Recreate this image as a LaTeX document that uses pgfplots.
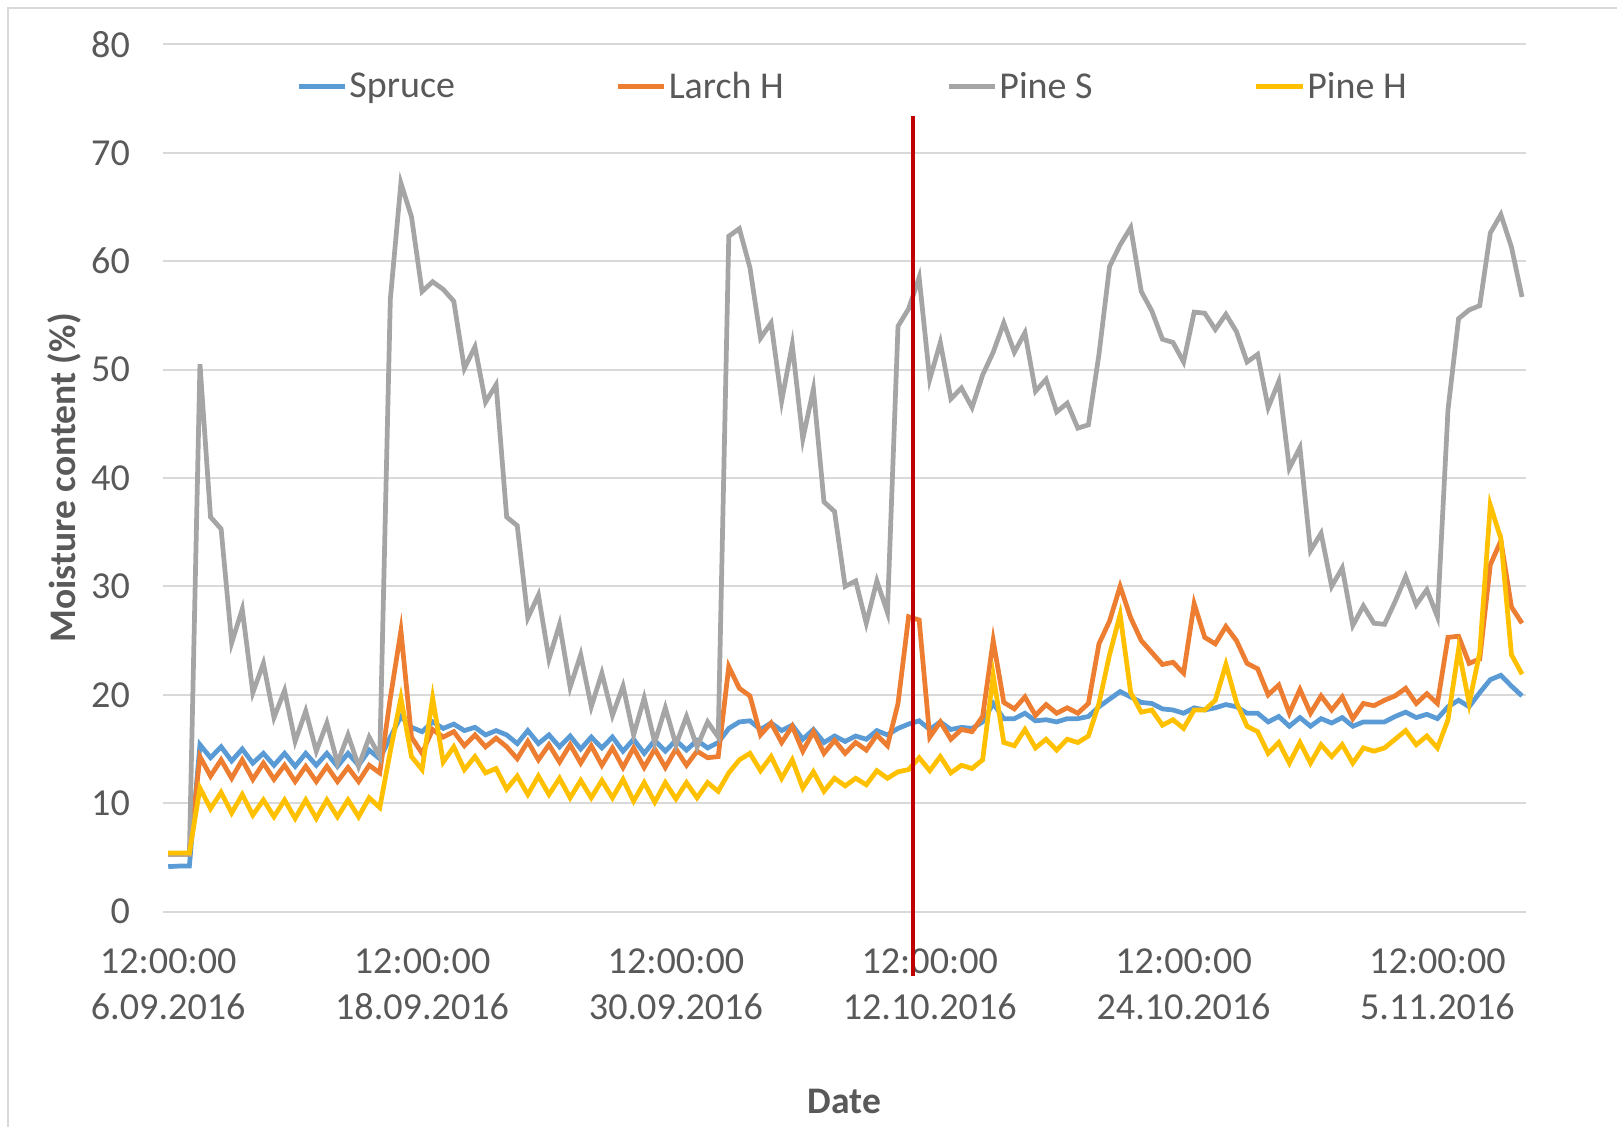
\documentclass[border=0pt]{standalone}
\usepackage{pgfplots}
\pgfplotsset{compat=1.18}
\usepackage{pgfplotstable}
\usepackage{fontspec}
\setmainfont{Carlito}
\definecolor{cS}{HTML}{5B9BD5}
\definecolor{cL}{HTML}{ED7D31}
\definecolor{cP}{HTML}{A5A5A5}
\definecolor{cH}{HTML}{FFC000}
\definecolor{txt}{HTML}{595959}
\definecolor{gridc}{HTML}{D9D9D9}
\definecolor{redline}{HTML}{C00000}

\pgfplotstableread{
x s l p h
0 4.15 5.3 5.3 5.4
0.5 4.2 5.3 5.3 5.4
1 4.2 5.3 5.3 5.4
1.5 15.4 14.3 50.5 11.4
2 14.2 12.5 36.4 9.5
2.5 15.2 14.0 35.3 11.0
3 13.9 12.3 24.8 9.1
3.5 15.0 14.0 27.9 10.8
4 13.7 12.2 20.2 8.9
4.5 14.6 13.7 22.9 10.3
5 13.5 12.2 17.9 8.75
5.5 14.6 13.5 20.4 10.3
6 13.4 12.0 15.7 8.6
6.5 14.6 13.4 18.5 10.3
7 13.5 12.0 14.8 8.6
7.5 14.6 13.4 17.4 10.3
8 13.4 12.0 13.7 8.75
8.5 14.6 13.3 16.3 10.3
9 13.5 12.0 13.4 8.75
9.5 14.9 13.5 16.1 10.5
10 14.1 12.8 14.3 9.6
10.5 16.1 19.7 56.5 14.8
11 18.0 25.9 67.2 19.7
11.5 17.0 16.1 64.1 14.3
12 16.6 14.6 57.2 13.1
12.5 17.5 16.8 58.1 19.7
13 16.9 16.1 57.4 13.8
13.5 17.3 16.6 56.3 15.2
14 16.7 15.3 50.1 13.1
14.5 17.0 16.3 52.1 14.3
15 16.3 15.2 47.0 12.8
15.5 16.7 16.0 48.6 13.2
16 16.3 15.2 36.4 11.3
16.5 15.5 14.1 35.6 12.5
17 16.7 15.7 27.1 10.8
17.5 15.5 14.0 29.2 12.5
18 16.3 15.4 23.3 10.8
18.5 15.2 13.8 26.5 12.3
19 16.2 15.4 20.7 10.5
19.5 15.0 13.7 23.7 12.1
20 16.1 15.3 18.9 10.5
20.5 15.1 13.5 22.0 12.1
21 16.1 15.1 18.1 10.5
21.5 14.8 13.3 20.8 12.2
22 15.9 15.1 16.3 10.2
22.5 14.6 13.3 19.7 11.9
23 15.8 15.0 15.6 10.1
23.5 14.8 13.3 18.8 11.9
24 15.8 15.0 15.4 10.4
24.5 14.9 13.5 18.0 11.9
25 15.8 14.8 15.2 10.5
25.5 15.1 14.2 17.5 11.9
26 15.6 14.3 16.1 11.1
26.5 16.9 22.6 62.3 12.8
27 17.5 20.6 63.0 14.0
27.5 17.6 19.9 59.4 14.6
28 16.8 16.3 52.9 13.0
28.5 17.4 17.4 54.3 14.3
29 16.7 15.6 47.1 12.3
29.5 17.2 17.1 52.3 14.0
30 15.9 14.8 43.6 11.4
30.5 16.8 16.6 48.2 12.9
31 15.6 14.6 37.8 11.1
31.5 16.2 15.8 36.9 12.3
32 15.7 14.6 30.0 11.6
32.5 16.2 15.6 30.5 12.3
33 15.9 14.9 26.6 11.7
33.5 16.7 16.3 30.5 13.0
34 16.3 15.3 27.6 12.3
34.5 16.9 19.2 54.0 12.9
35 17.3 27.2 55.6 13.1
35.5 17.6 26.9 58.5 14.2
36 16.8 16.1 49.1 13.0
36.5 17.5 17.5 52.5 14.3
37 16.8 15.9 47.3 12.8
37.5 17.0 16.8 48.3 13.5
38 16.9 16.6 46.5 13.2
38.5 17.5 18.0 49.5 14.0
39 19.2 25.0 51.6 21.8
39.5 17.8 19.3 54.3 15.6
40 17.8 18.7 51.6 15.3
40.5 18.3 19.8 53.4 16.8
41 17.6 18.1 48.0 15.1
41.5 17.7 19.1 49.1 15.9
42 17.5 18.3 46.1 14.9
42.5 17.8 18.8 46.9 15.9
43 17.8 18.3 44.6 15.6
43.5 18.0 19.2 44.9 16.2
44 18.9 24.7 51.4 19.2
44.5 19.6 26.8 59.5 23.7
45 20.3 30.0 61.5 27.4
45.5 19.8 27.1 63.1 20.2
46 19.3 25.0 57.2 18.4
46.5 19.2 23.9 55.4 18.6
47 18.7 22.8 52.8 17.2
47.5 18.6 23.0 52.5 17.7
48 18.3 22.0 50.7 16.9
48.5 18.8 28.4 55.3 18.6
49 18.6 25.3 55.2 18.6
49.5 18.8 24.7 53.7 19.5
50 19.1 26.3 55.1 22.8
50.5 18.9 25.0 53.5 19.3
51 18.3 22.9 50.7 17.1
51.5 18.3 22.4 51.4 16.6
52 17.5 20.0 46.5 14.6
52.5 18.0 20.9 48.9 15.6
53 17.1 18.3 40.9 13.7
53.5 17.9 20.5 42.8 15.6
54 17.1 18.3 33.3 13.7
54.5 17.8 19.9 34.9 15.4
55 17.4 18.6 30.0 14.3
55.5 17.9 19.8 31.7 15.4
56 17.1 17.8 26.4 13.7
56.5 17.5 19.2 28.2 15.1
57 17.5 19.0 26.6 14.8
57.5 17.5 19.5 26.5 15.1
58 18.0 19.9 28.6 15.9
58.5 18.4 20.6 30.9 16.7
59 17.9 19.2 28.3 15.4
59.5 18.2 20.1 29.7 16.2
60 17.8 19.2 27.2 15.1
60.5 18.9 25.3 46.3 17.7
61 19.5 25.4 54.7 24.2
61.5 18.9 22.9 55.5 19.2
62 20.2 23.3 55.9 23.9
62.5 21.4 32.0 62.6 37.5
63 21.8 34.2 64.3 34.4
63.5 20.8 28.1 61.3 23.7
64 19.9 26.6 56.7 21.9
}\data

\begin{document}
\begin{tikzpicture}
\useasboundingbox (-79pt,-104pt) rectangle (705pt,442pt);
\draw[gridc, line width=1pt] (-75pt,-110pt) -- (-75pt,438pt) -- (720pt,438pt);
\begin{axis}[
  at={(0,0)}, anchor=south west,
  scale only axis, width=661pt, height=420.5pt,
  xmin=-0.25, xmax=64.2, ymin=0, ymax=80,
  ytick={0,10,...,80},
  xtick={0,12,24,36,48,60},
  xticklabels={{12:00:00\\6.09.2016},{12:00:00\\18.09.2016},{12:00:00\\30.09.2016},{12:00:00\\12.10.2016},{12:00:00\\24.10.2016},{12:00:00\\5.11.2016}},
  axis line style={draw=none},
  major tick length=0pt,
  ymajorgrids, grid style={gridc, line width=1pt},
  /pgf/number format/assume math mode=true,
  tick label style={font=\fontsize{18.5}{22.5}\selectfont, color=txt},
  xticklabel style={align=center, yshift=-14.5pt},
  yticklabel style={xshift=-12.5pt},
  xlabel={Date}, ylabel={Moisture content (\%)},
  label style={font=\bfseries\fontsize{18.2}{21}\selectfont, color=txt},
  xlabel style={at={(axis description cs:0.5,-0.2188)}, anchor=center},
  ylabel style={at={(axis description cs:-0.0726,0.5)}, anchor=center},
  clip=false,
  legend columns=4,
  legend cell align=left,
  legend style={at={(axis description cs:0.0975,0.9512)}, anchor=west, draw=none, fill=none,
    font=\fontsize{18.4}{21}\selectfont, text=txt, inner sep=0pt,
    nodes={inner sep=1pt}},
  legend image code/.code={\draw[#1, line width=2.3pt] (0pt,0pt) -- (22.5pt,0pt);},
]
\addplot[cS, line width=2.3pt, mark=none] table[x=x, y=s] {\data};
\addlegendentry{\makebox[128pt][l]{Spruce}}
\addplot[cL, line width=2.3pt, mark=none] table[x=x, y=l] {\data};
\addlegendentry{\makebox[133.5pt][l]{Larch H}}
\addplot[cP, line width=2.3pt, mark=none] table[x=x, y=p] {\data};
\addlegendentry{\makebox[122.5pt][l]{Pine S}}
\addplot[cH, line width=2.3pt, mark=none] table[x=x, y=h] {\data};
\addlegendentry{Pine H}
\draw[redline, line width=2pt] (axis cs:35.2,73.4) -- (axis cs:35.2,-5.9);
\end{axis}
\end{tikzpicture}
\end{document}
